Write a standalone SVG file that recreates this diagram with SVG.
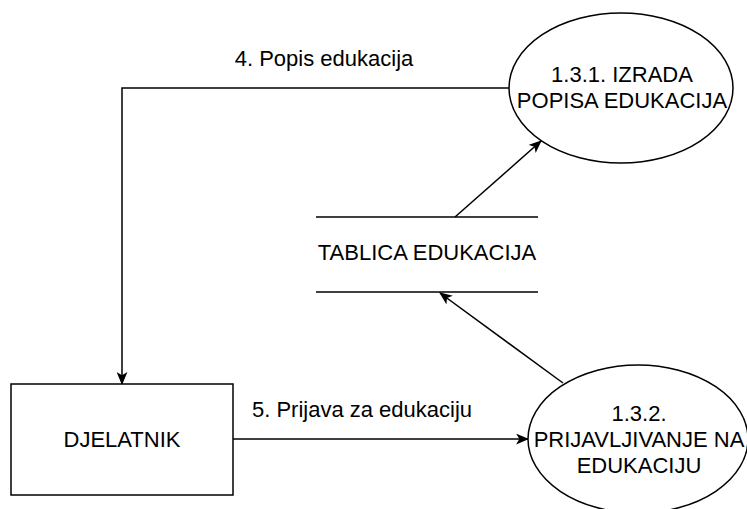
<svg xmlns="http://www.w3.org/2000/svg" width="747" height="509" viewBox="0 0 747 509">
<defs>
<style>
text{font-family:"Liberation Sans",Arial,sans-serif;font-size:22px;fill:#000;}
.c{text-anchor:middle;}
.s{fill:none;stroke:#000;stroke-width:1.5;}
.n{fill:#fff;stroke:#000;stroke-width:1.5;}
</style>
<marker id="arr" viewBox="0 0 12 10" refX="11" refY="5" markerWidth="13" markerHeight="11" markerUnits="userSpaceOnUse" orient="auto">
<path d="M0,0 L12,5 L0,10 L3,5 Z" fill="#000"/>
</marker>
</defs>
<rect width="747" height="509" fill="#fff"/>
<g id="connectors">
<path class="s" d="M509,88 H122 V384" marker-end="url(#arr)"/>
<path class="s" d="M233,439 H528" marker-end="url(#arr)"/>
<path class="s" d="M455,217 L541,141" marker-end="url(#arr)"/>
<path class="s" d="M563,383 L440,293" marker-end="url(#arr)"/>
<text x="324" y="66" class="c">4. Popis edukacija</text>
<text x="362" y="417" class="c">5. Prijava za edukaciju</text>
</g>
<g id="p131">
<ellipse class="n" cx="621" cy="88" rx="112" ry="75"/>
<text x="622" y="82" class="c">1.3.1. IZRADA</text>
<text x="622" y="108" class="c">POPISA EDUKACIJA</text>
</g>
<g id="store">
<line class="s" x1="316" y1="217" x2="538" y2="217"/>
<line class="s" x1="316" y1="292" x2="538" y2="292"/>
<text x="427" y="260" class="c">TABLICA EDUKACIJA</text>
</g>
<g id="djelatnik">
<rect class="n" x="11" y="384" width="222" height="111"/>
<text x="122" y="447" class="c">DJELATNIK</text>
</g>
<g id="p132">
<ellipse class="n" cx="638" cy="439" rx="110" ry="74"/>
<text x="639" y="421" class="c">1.3.2.</text>
<text x="639" y="447" class="c">PRIJAVLJIVANJE NA</text>
<text x="639" y="473" class="c">EDUKACIJU</text>
</g>
</svg>
